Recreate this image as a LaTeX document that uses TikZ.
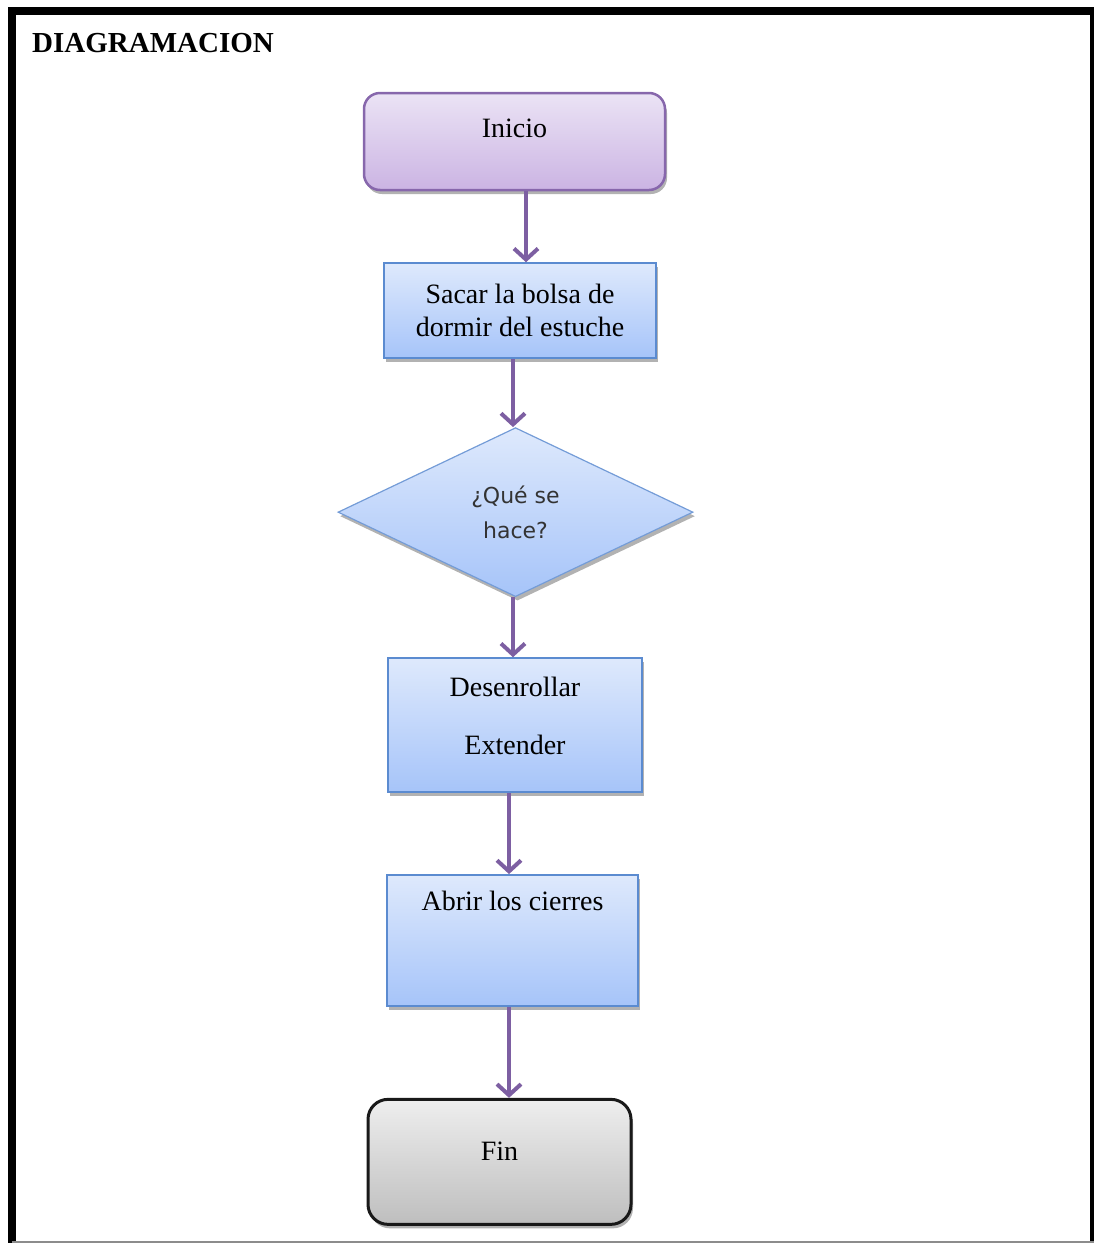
\documentclass[tikz,border=0pt]{standalone}
\usepackage{fontspec}
\setmainfont{Liberation Serif}
\newfontfamily\dejavu{DejaVu Sans}
\usepackage{tikz}
\usetikzlibrary{arrows.meta, positioning, shapes.geometric, shadows}

\definecolor{lilaTop}{HTML}{EBE3F5}
\definecolor{lilaBot}{HTML}{CBB4E3}
\definecolor{lilaEdge}{HTML}{8767AC}
\definecolor{azulTop}{HTML}{DEE9FC}
\definecolor{azulBot}{HTML}{A6C4F9}
\definecolor{azulEdge}{HTML}{5B8BD0}
\definecolor{grisTop}{HTML}{EEEEEE}
\definecolor{grisBot}{HTML}{BEBEBE}
\definecolor{flecha}{HTML}{7D5FA2}

\begin{document}
\begin{tikzpicture}[x=1pt, y=-1pt,
    txt/.style={font=\fontsize{28}{33}\selectfont, align=center, inner sep=0pt},
    sombra/.style={drop shadow={shadow xshift=2pt, shadow yshift=-4pt, opacity=.3, fill=black}},
    startbox/.style={txt, sombra, rounded corners=16pt, draw=lilaEdge, line width=2.5pt, top color=lilaTop, bottom color=lilaBot, minimum width=301pt, minimum height=97pt},
    procbox/.style={txt, sombra, draw=azulEdge, line width=1.8pt, top color=azulTop, bottom color=azulBot},
    decision/.style={diamond, sombra, draw=azulEdge!85, line width=1.2pt, top color=azulTop, bottom color=azulBot, inner sep=0pt, minimum width=355pt, minimum height=169pt, align=center, text=black!80, font=\dejavu\fontsize{22}{35}\selectfont},
    endbox/.style={txt, sombra, rounded corners=20pt, draw=black!90, line width=3pt, top color=grisTop, bottom color=grisBot, minimum width=263pt, minimum height=125pt},
    flow/.style={draw=flecha, line width=4pt, -{Straight Barb[length=11pt, width=24pt]}}
]
\useasboundingbox (0,0) rectangle (1094,1243);

% marco
\draw[line width=8pt] (12,1243) -- (12,11) -- (1094,11) -- (1094,1243);
\draw[black!45, line width=2pt] (12,1242) -- (1094,1242);

% titulo
\node[anchor=base west, inner sep=0pt, font=\bfseries\fontsize{29}{34}\selectfont] (titulo) at (32,52) {DIAGRAMACION};

% pasos
\node[startbox, text height=20pt, text depth=29pt] (inicio) at (514.5,141.5) {Inicio};
\node[procbox, minimum width=272pt, minimum height=95pt, below=71pt of inicio, xshift=5.5pt] (sacar) {Sacar la bolsa de\\dormir del estuche};
\node[decision, below=68pt of sacar, xshift=-4.5pt] (pregunta) {¿Qué se\\hace?};
\node[procbox, minimum width=254pt, minimum height=134pt, below=60pt of pregunta, xshift=-0.5pt] (desen) {Desenrollar\\[25pt]Extender\\[-14pt]\mbox{}};
\node[procbox, minimum width=251pt, minimum height=131pt, text height=20pt, text depth=79pt, below=81pt of desen, xshift=-2.5pt] (abrir) {Abrir los cierres};
\node[endbox, text height=20pt, text depth=23pt, below=91pt of abrir, xshift=-13pt] (fin) {Fin};

% flechas
\draw[flow] (inicio.south -| 526,0) -- (sacar.north -| 526,0);
\draw[flow] (sacar.south -| 513,0) -- (pregunta.north -| 513,0);
\draw[flow] (pregunta.south -| 513,0) -- (desen.north -| 513,0);
\draw[flow] (desen.south -| 509,0) -- (abrir.north -| 509,0);
\draw[flow] (abrir.south -| 509,0) -- (fin.north -| 509,0);
\end{tikzpicture}
\end{document}
